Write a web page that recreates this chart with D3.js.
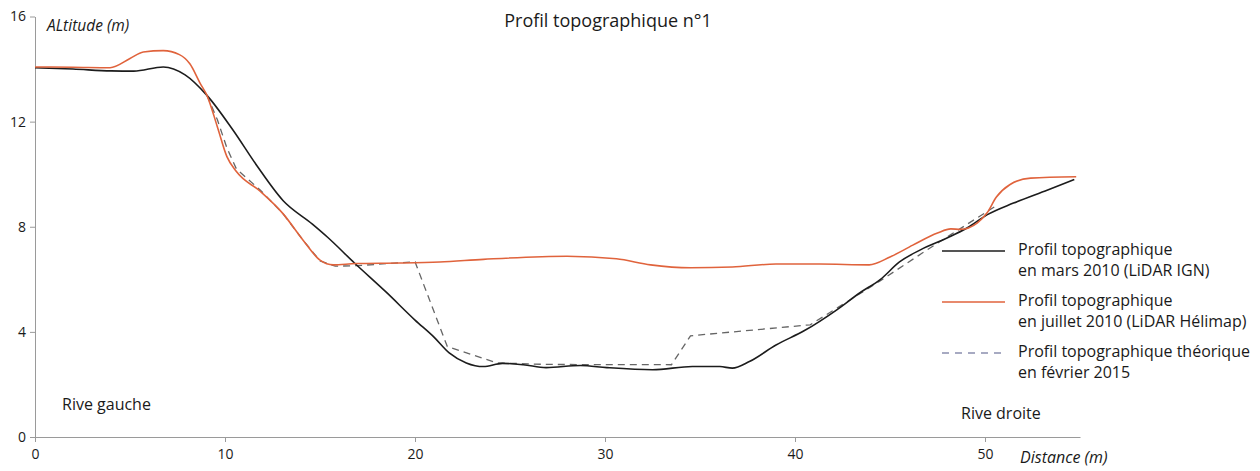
<!DOCTYPE html>
<html>
<head>
<meta charset="utf-8">
<script src="https://cdn.jsdelivr.net/npm/d3@7"></script>
<style>
  body { margin: 0; background: #fff; }
  text { font-family: "Open Sans", sans-serif; fill: #1a1a1a; }
  .axis path, .axis line { stroke: #9a9a9a; }
  .axis text { font-size: 14px; fill: #1a1a1a; }
</style>
</head>
<body>
<svg id="chart"></svg>
<script>
var margin = { top: 16.5, right: 180, bottom: 34, left: 35 },
    width = 1260 - margin.left - margin.right,
    height = 471 - margin.top - margin.bottom;

// Profil mars 2010 (LiDAR IGN) : [distance, altitude]
var mars2010 = [
  [0, 14.05], [2, 14.0], [4, 13.93], [5.2, 13.92], [6.75, 14.08], [7.9, 13.78],
  [9.05, 13.0], [10.4, 11.7], [11.7, 10.3], [13.05, 9.0], [14.6, 8.1], [15.4, 7.6],
  [16.8, 6.63], [18.5, 5.5], [20, 4.45], [21, 3.8], [21.8, 3.2], [22.7, 2.82],
  [23.6, 2.68], [24.6, 2.8], [25.7, 2.75], [26.9, 2.64], [28.7, 2.72], [30.1, 2.64],
  [32.5, 2.56], [34.6, 2.68], [36.05, 2.68], [36.7, 2.62], [37.6, 2.87], [39.0, 3.5],
  [40.5, 4.05], [42.2, 4.84], [43.4, 5.48], [44.5, 6.0], [45.5, 6.66], [46.6, 7.12],
  [48.0, 7.57], [49.05, 7.95], [50.1, 8.45], [51.5, 8.9], [53.3, 9.4], [54.7, 9.8]
];

// Profil juillet 2010 (LiDAR Hélimap)
var juillet2010 = [
  [0, 14.08], [2, 14.07], [3.95, 14.05], [5, 14.4], [5.7, 14.65], [6.75, 14.7],
  [7.6, 14.55], [8.15, 14.2], [8.7, 13.45], [9.05, 13.0], [9.6, 11.8], [10.1, 10.67],
  [10.6, 10.1], [11.85, 9.35], [13.05, 8.5], [14.1, 7.5], [15.0, 6.73], [15.7, 6.55],
  [16.9, 6.6], [19.2, 6.62], [21.3, 6.66], [23.6, 6.76], [28, 6.88], [30.6, 6.78],
  [32.4, 6.55], [34.5, 6.44], [36.7, 6.47], [39.0, 6.58], [41.3, 6.58], [43.9, 6.55],
  [45, 6.85], [46.2, 7.3], [47.5, 7.76], [48.2, 7.92], [48.7, 7.9], [49.6, 8.15],
  [50.1, 8.52], [50.6, 9.13], [51.3, 9.6], [52.4, 9.85], [54.8, 9.9]
];

// Profil théorique février 2015
var fevrier2015 = [
  [9.05, 13.0], [9.6, 12.07], [10.1, 11.0], [10.6, 10.2], [11.85, 9.4], [13.05, 8.5],
  [14.1, 7.5], [15.0, 6.7], [15.8, 6.5], [17, 6.52], [20, 6.67], [21.7, 3.44],
  [24.3, 2.82], [27, 2.76], [33.5, 2.75], [34.5, 3.85], [40.8, 4.27], [42.2, 4.9],
  [44.5, 5.95], [46.7, 7.0], [48.2, 7.7], [50.7, 8.85]
];

var xTicks = [0, 10, 20, 30, 40, 50];
var yTicks = [0, 4, 8, 12, 16];

var legendItems = [
  { lines: ["Profil topographique", "en mars 2010 (LiDAR IGN)"], color: "#1c1c1c", dash: null },
  { lines: ["Profil topographique", "en juillet 2010 (LiDAR Hélimap)"], color: "#e0633c", dash: null },
  { lines: ["Profil topographique théorique", "en février 2015"], color: "#8b8fae", dash: "7,6" }
];

var svg = d3.select("#chart")
    .attr("width", 1260)
    .attr("height", 471)
    .append("g")
    .attr("transform", "translate(" + margin.left + "," + margin.top + ")");

var x = d3.scaleLinear().domain([0, 55]).range([0, width]);
var y = d3.scaleLinear().domain([0, 16]).range([height, 0]);

// axes
svg.append("g")
    .attr("class", "axis")
    .attr("transform", "translate(0," + height + ")")
    .call(d3.axisBottom(x).tickValues(xTicks).tickSize(5).tickSizeOuter(0).tickPadding(7))
    .call(function(g) { g.select(".domain").attr("stroke-width", 1.2); });

svg.append("g")
    .attr("class", "axis")
    .call(d3.axisLeft(y).tickValues(yTicks).tickSize(5).tickSizeOuter(0).tickPadding(4));

var line = d3.line()
    .x(function(d) { return x(d[0]); })
    .y(function(d) { return y(d[1]); });

svg.append("path")
    .datum(fevrier2015)
    .attr("fill", "none")
    .attr("stroke", "#666")
    .attr("stroke-width", 1.3)
    .attr("stroke-dasharray", "7,5")
    .attr("d", line.curve(d3.curveLinear));

svg.append("path")
    .datum(mars2010)
    .attr("fill", "none")
    .attr("stroke", "#1c1c1c")
    .attr("stroke-width", 1.6)
    .attr("d", line.curve(d3.curveMonotoneX));

svg.append("path")
    .datum(juillet2010)
    .attr("fill", "none")
    .attr("stroke", "#e0633c")
    .attr("stroke-width", 1.6)
    .attr("d", line.curve(d3.curveMonotoneX));

// labels
svg.append("text")
    .attr("x", 608 - margin.left)
    .attr("y", 27 - margin.top)
    .attr("text-anchor", "middle")
    .style("font-size", "18px")
    .text("Profil topographique n°1");

svg.append("text")
    .attr("x", 47 - margin.left)
    .attr("y", 31 - margin.top)
    .style("font-size", "15.5px")
    .style("font-style", "italic")
    .text("ALtitude (m)");

svg.append("text")
    .attr("x", 1020 - margin.left)
    .attr("y", 463 - margin.top)
    .style("font-size", "16px")
    .style("font-style", "italic")
    .text("Distance (m)");

svg.append("text")
    .attr("x", 62 - margin.left)
    .attr("y", 410 - margin.top)
    .style("font-size", "16px")
    .text("Rive gauche");

svg.append("text")
    .attr("x", 961 - margin.left)
    .attr("y", 419 - margin.top)
    .style("font-size", "16px")
    .text("Rive droite");

// legend
var legend = svg.append("g")
    .attr("transform", "translate(" + (942 - margin.left) + "," + (251 - margin.top) + ")");

legendItems.forEach(function(item, i) {
    var g = legend.append("g").attr("transform", "translate(0," + (i * 51) + ")");
    g.append("line")
        .attr("x1", 0).attr("x2", 63)
        .attr("y1", 0).attr("y2", 0)
        .attr("stroke", item.color)
        .attr("stroke-width", 1.6)
        .attr("stroke-dasharray", item.dash);
    item.lines.forEach(function(t, j) {
        g.append("text")
            .attr("x", 76)
            .attr("y", j * 21 + 4)
            .style("font-size", "16px")
            .text(t);
    });
});
</script>
</body>
</html>
